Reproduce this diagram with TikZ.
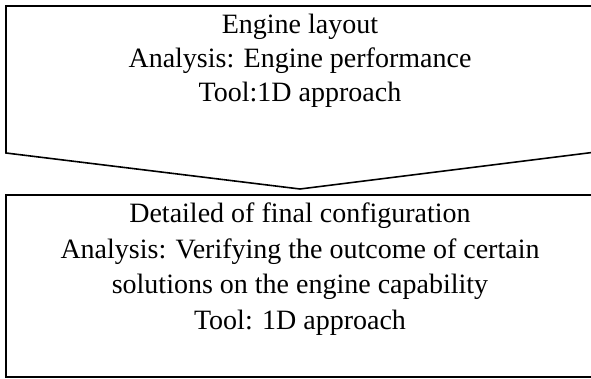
\documentclass[tikz,border=0pt]{standalone}
\usepackage{fontspec}
\setmainfont{Liberation Serif}
\usepackage{tikz}
\usetikzlibrary {positioning}

\tikzset{
	stagetext/.style={align=center, inner sep=0pt, font=\fontsize{28}{35.5}\selectfont},
	stageline/.style={draw=black, line width=1.6pt}
}

\begin{document}
\begin{tikzpicture}[x=1pt, y=-1pt]
	\useasboundingbox (0,0) rectangle (591,379);
	\clip (0,0) rectangle (591,379);
	\draw[stageline] (6,6) -- (596,6) -- (596,152) -- (300,189) -- (6,153) -- cycle;
	\draw[stageline] (6,195) rectangle (596,377);
	\node[stagetext, font=\fontsize{28}{34}\selectfont] (layout) at (300,61) {Engine layout\\Analysis: Engine performance\\Tool:1D approach};
	\node[stagetext] (final) at (300,269) {Detailed of final configuration\\Analysis: Verifying the outcome of certain\\solutions on the engine capability\\Tool: 1D approach};
\end{tikzpicture}
\end{document}
